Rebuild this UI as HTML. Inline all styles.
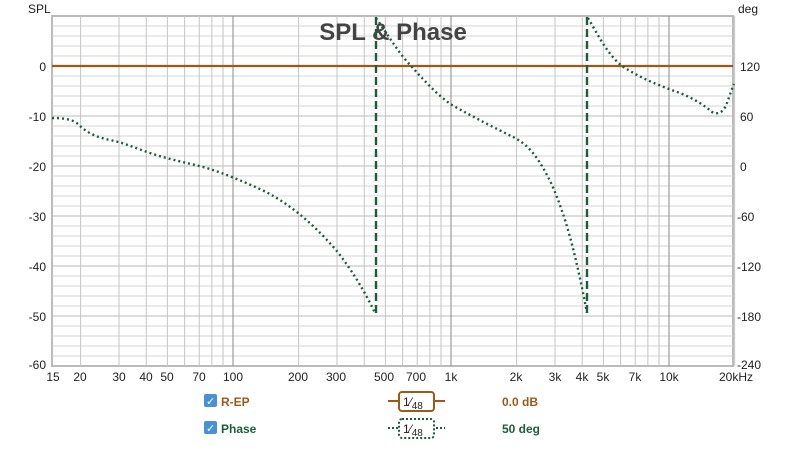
<!DOCTYPE html>
<html><head><meta charset="utf-8"><style>
body{margin:0;background:#fff;width:800px;height:445px;overflow:hidden;font-family:"Liberation Sans",sans-serif}
</style></head><body>
<svg width="800" height="445" viewBox="0 0 800 445" xmlns="http://www.w3.org/2000/svg" font-family="Liberation Sans, sans-serif">
<rect x="52" y="16" width="681" height="350" fill="#fff" stroke="#bbb" stroke-width="2"/>
<g stroke="#d4d4d4" stroke-width="1">
<line x1="52" x2="733" y1="26" y2="26"/><line x1="52" x2="733" y1="36" y2="36"/><line x1="52" x2="733" y1="46" y2="46"/><line x1="52" x2="733" y1="56" y2="56"/>
<line x1="52" x2="733" y1="76" y2="76"/><line x1="52" x2="733" y1="86" y2="86"/><line x1="52" x2="733" y1="96" y2="96"/><line x1="52" x2="733" y1="106" y2="106"/>
<line x1="52" x2="733" y1="126" y2="126"/><line x1="52" x2="733" y1="136" y2="136"/><line x1="52" x2="733" y1="146" y2="146"/><line x1="52" x2="733" y1="156" y2="156"/>
<line x1="52" x2="733" y1="176" y2="176"/><line x1="52" x2="733" y1="186" y2="186"/><line x1="52" x2="733" y1="196" y2="196"/><line x1="52" x2="733" y1="206" y2="206"/>
<line x1="52" x2="733" y1="226" y2="226"/><line x1="52" x2="733" y1="236" y2="236"/><line x1="52" x2="733" y1="246" y2="246"/><line x1="52" x2="733" y1="256" y2="256"/>
<line x1="52" x2="733" y1="276" y2="276"/><line x1="52" x2="733" y1="286" y2="286"/><line x1="52" x2="733" y1="296" y2="296"/><line x1="52" x2="733" y1="306" y2="306"/>
<line x1="52" x2="733" y1="326" y2="326"/><line x1="52" x2="733" y1="336" y2="336"/><line x1="52" x2="733" y1="346" y2="346"/><line x1="52" x2="733" y1="356" y2="356"/>
</g>
<g stroke="#b8b8b8" stroke-width="1">
<line x1="52" x2="733" y1="66" y2="66"/><line x1="52" x2="733" y1="116" y2="116"/><line x1="52" x2="733" y1="166" y2="166"/><line x1="52" x2="733" y1="216" y2="216"/><line x1="52" x2="733" y1="266" y2="266"/><line x1="52" x2="733" y1="316" y2="316"/>
</g>
<g stroke="#c4c4c4" stroke-width="1" id="vg"></g>
<g stroke="#888" stroke-width="1">
<line x1="233" x2="233" y1="16" y2="366"/><line x1="451" x2="451" y1="16" y2="366"/><line x1="669" x2="669" y1="16" y2="366"/>
</g>
<text x="393" y="40" font-size="24" font-weight="bold" fill="#444" text-anchor="middle">SPL &amp; Phase</text>
<line x1="52" x2="733" y1="66" y2="66" stroke="#9a5a1a" stroke-width="2.2"/>
<g fill="none" stroke="#1b5e3b" stroke-width="2.4">
<path stroke-dasharray="2,3" d="M52,118 C62,118 72,119 78,124 C86,132 95,137 110,140 C125,143 135,148 150,153 C170,160 190,163 210,169 C225,174 240,180 262,190 C285,201 310,220 336,250 C352,270 365,292 375,313"/>
<path stroke-dasharray="8,4" d="M376,313 L376,16"/>
<path stroke-dasharray="2,3" d="M376,18 C390,38 400,55 412,67 C428,85 440,97 452,105 C475,118 495,128 515,138 C530,146 540,160 552,185 C565,215 575,250 587,313"/>
<path stroke-dasharray="8,4" d="M587,313 L587,16"/>
<path stroke-dasharray="2,3" d="M588,18 C598,35 608,55 622,66 C640,78 660,86 680,93 C695,99 705,106 712,112 C720,116 725,110 728,100 C730,95 732,88 734,84"/>
</g>
<g font-size="12" fill="#222">
<text x="28" y="13">SPL</text>
<text x="738" y="13">deg</text>
<g text-anchor="end">
<text x="46" y="71">0</text><text x="46" y="121">-10</text><text x="46" y="171">-20</text><text x="46" y="221">-30</text><text x="46" y="271">-40</text><text x="46" y="321">-50</text><text x="46" y="369">-60</text>
</g>
<text x="740" y="71">120</text><text x="740" y="121">60</text><text x="740" y="171">0</text><text x="737" y="221">-60</text><text x="737" y="271">-120</text><text x="737" y="321">-180</text><text x="737" y="369">-240</text>
<g text-anchor="middle">
<text x="53" y="381">15</text><text x="80" y="381">20</text><text x="119" y="381">30</text><text x="146" y="381">40</text><text x="167" y="381">50</text><text x="199" y="381">70</text><text x="233" y="381">100</text>
<text x="298" y="381">200</text><text x="336" y="381">300</text><text x="384" y="381">500</text><text x="416" y="381">700</text><text x="451" y="381">1k</text>
<text x="516" y="381">2k</text><text x="555" y="381">3k</text><text x="582" y="381">4k</text><text x="603" y="381">5k</text><text x="635" y="381">7k</text><text x="669" y="381">10k</text><text x="736" y="381">20kHz</text>
</g>
</g>
<rect x="204" y="394" width="13" height="13" rx="2" fill="#4a90d9"/>
<text x="206" y="405" font-size="11" fill="#fff">✓</text>
<text x="221" y="406" font-size="12" font-weight="bold" fill="#9a5a1a">R-EP</text>
<line x1="388" x2="445" y1="401" y2="401" stroke="#9a5a1a" stroke-width="2"/>
<rect x="399" y="392" width="35" height="19" rx="3" fill="#fff" stroke="#9a5a1a" stroke-width="2"/>
<text x="403" y="406" font-size="12" fill="#222">1⁄<tspan font-size="10" dy="3">48</tspan></text>
<text x="502" y="406" font-size="12" font-weight="bold" fill="#9a5a1a">0.0 dB</text>
<rect x="204" y="421" width="13" height="13" rx="2" fill="#4a90d9"/>
<text x="206" y="432" font-size="11" fill="#fff">✓</text>
<text x="221" y="433" font-size="12" font-weight="bold" fill="#1b5e3b">Phase</text>
<line x1="388" x2="445" y1="428" y2="428" stroke="#1b5e3b" stroke-width="2" stroke-dasharray="2,2"/>
<rect x="399" y="419" width="35" height="19" rx="3" fill="#fff" stroke="#1b5e3b" stroke-width="2" stroke-dasharray="2,2"/>
<text x="403" y="433" font-size="12" fill="#222">1⁄<tspan font-size="10" dy="3">48</tspan></text>
<text x="502" y="433" font-size="12" font-weight="bold" fill="#1b5e3b">50 deg</text>
</svg>
<script>
var g=document.getElementById('vg'),s='';
[20,30,40,50,60,70,80,90,200,300,400,500,600,700,800,900,2000,3000,4000,5000,6000,7000,8000,9000,20000].forEach(function(f){
var x=233+218*(Math.log10(f)-2);s+='<line x1="'+x+'" x2="'+x+'" y1="16" y2="366"/>';});
g.innerHTML=s;
</script>
</body></html>
